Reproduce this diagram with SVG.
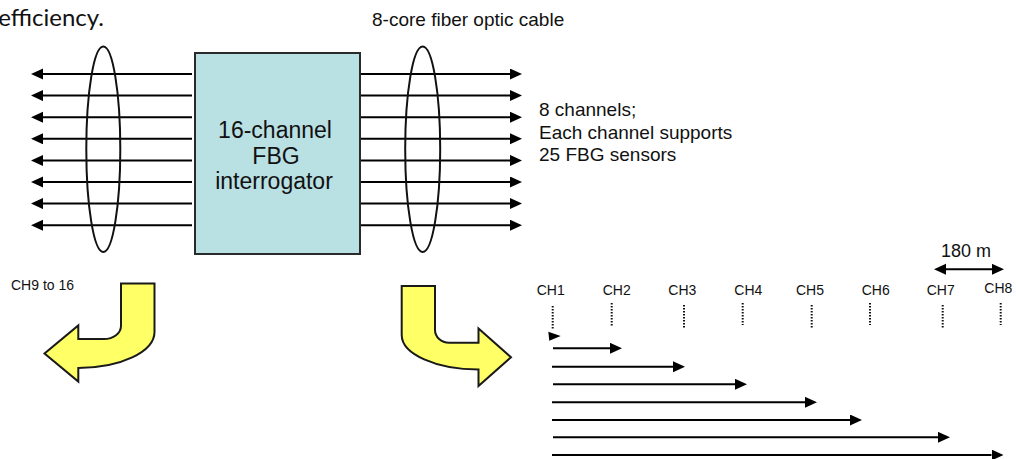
<svg xmlns="http://www.w3.org/2000/svg" width="1016" height="459" viewBox="0 0 1016 459">
<style>
  .t { font-family: "Liberation Sans", Arial, sans-serif; fill: #111; }
  .big { font-size: 19px; }
  .sm { font-size: 14px; }
  .box { font-size: 23px; }
  .ln { stroke: #000; stroke-width: 2; fill: none; }
  .ell { stroke: #111; stroke-width: 2; fill: none; }
  .dot { stroke: #111; stroke-width: 2; stroke-dasharray: 1.5 1.5; }
  .bend { fill: #FFFF66; stroke: #1a1a1a; stroke-width: 2; stroke-linejoin: miter; }
</style>
<defs>
  <marker id="ah" markerUnits="userSpaceOnUse" markerWidth="13" markerHeight="12" refX="0" refY="5.5" orient="auto-start-reverse">
    <path d="M0,0 L12,5.5 L0,11 z" fill="#000"/>
  </marker>
</defs>
<rect width="1016" height="459" fill="#fff"/>

<text x="104" y="26" text-anchor="end" style="font-family: Lato, 'Open Sans', sans-serif; font-size: 24px; fill: #111;">efficiency.</text>
<text id="cable-label" class="t big" x="372" y="26">8-core fiber optic cable</text>

<g id="connectors">
  <g id="left-fibers" marker-end="url(#ah)">
    <line class="ln" x1="192" y1="74" x2="43" y2="74"/>
    <line class="ln" x1="192" y1="95.6" x2="43" y2="95.6"/>
    <line class="ln" x1="192" y1="117.2" x2="43" y2="117.2"/>
    <line class="ln" x1="192" y1="138.8" x2="43" y2="138.8"/>
    <line class="ln" x1="192" y1="160.4" x2="43" y2="160.4"/>
    <line class="ln" x1="192" y1="182" x2="43" y2="182"/>
    <line class="ln" x1="192" y1="203.6" x2="43" y2="203.6"/>
    <line class="ln" x1="192" y1="225.2" x2="43" y2="225.2"/>
  </g>
  <g id="right-fibers" marker-end="url(#ah)">
    <line class="ln" x1="360" y1="74" x2="510" y2="74"/>
    <line class="ln" x1="360" y1="95.6" x2="510" y2="95.6"/>
    <line class="ln" x1="360" y1="117.2" x2="510" y2="117.2"/>
    <line class="ln" x1="360" y1="138.8" x2="510" y2="138.8"/>
    <line class="ln" x1="360" y1="160.4" x2="510" y2="160.4"/>
    <line class="ln" x1="360" y1="182" x2="510" y2="182"/>
    <line class="ln" x1="360" y1="203.6" x2="510" y2="203.6"/>
    <line class="ln" x1="360" y1="225.2" x2="510" y2="225.2"/>
  </g>
  <g id="channel-lengths" marker-end="url(#ah)">
    <line class="ln" x1="553" y1="348.3" x2="610" y2="348.3"/>
    <line class="ln" x1="552" y1="366.7" x2="673" y2="366.7"/>
    <line class="ln" x1="553" y1="384.3" x2="735" y2="384.3"/>
    <line class="ln" x1="552" y1="402.3" x2="805" y2="402.3"/>
    <line class="ln" x1="552" y1="420" x2="850" y2="420"/>
    <line class="ln" x1="553" y1="437.3" x2="938" y2="437.3"/>
    <line class="ln" x1="552" y1="455" x2="991.5" y2="455"/>
  </g>
  <polygon points="548.3,331.7 549.3,340.7 560.7,336" fill="#000"/>
  <line id="span-180" class="ln" x1="946" y1="269.3" x2="992" y2="269.3" marker-start="url(#ah)" marker-end="url(#ah)"/>
</g>

<g id="cable-left">
  <ellipse class="ell" cx="103.3" cy="149.3" rx="17" ry="102.7"/>
</g>
<g id="cable-right">
  <ellipse class="ell" cx="422.7" cy="149.3" rx="17.5" ry="102.7"/>
</g>

<g id="interrogator">
  <rect x="195" y="53" width="165" height="201" fill="#B9E0E3" stroke="#2a2a2a" stroke-width="2"/>
  <text class="t box" x="275" y="138" text-anchor="middle">16-channel</text>
  <text class="t box" x="276" y="163.5" text-anchor="middle">FBG</text>
  <text class="t box" x="274" y="189" text-anchor="middle">interrogator</text>
</g>

<g id="channels-note">
  <text class="t big" x="539" y="116">8 channels;</text>
  <text class="t big" x="539" y="138.5">Each channel supports</text>
  <text class="t big" x="539" y="161">25 FBG sensors</text>
</g>

<g id="ch9-16">
  <text class="t sm" x="11" y="290">CH9 to 16</text>
  <path class="bend" d="M121,283.4 H154.5 V332 A76.5 36 0 0 1 78.3,368 V381.5 L44.5,353.5 L78.3,325.5 V339 H104 A17 13 0 0 0 121,326 Z"/>
</g>

<g id="ch1-8-bend">
  <path class="bend" d="M401.7,286 H435 V330 A14 12.7 0 0 0 449,342.7 H478.5 V328.5 L511,357.3 L478.5,386 V369.5 A76.8 34.5 0 0 1 401.7,335 Z"/>
</g>

<g id="channel-labels">
  <text class="t sm" x="536.7" y="295">CH1</text>
  <text class="t sm" x="602.7" y="295">CH2</text>
  <text class="t sm" x="668.3" y="295">CH3</text>
  <text class="t sm" x="734.3" y="295">CH4</text>
  <text class="t sm" x="796" y="295">CH5</text>
  <text class="t sm" x="861.7" y="295">CH6</text>
  <text class="t sm" x="926.7" y="295">CH7</text>
  <text class="t sm" x="984.3" y="293">CH8</text>
  <text class="t" x="941" y="257" style="font-size:18px">180 m</text>
</g>

<g id="channel-marks">
  <line class="dot" x1="552.7" y1="306" x2="552.7" y2="330"/>
  <line class="dot" x1="611.7" y1="303" x2="611.7" y2="326"/>
  <line class="dot" x1="684" y1="305" x2="684" y2="328"/>
  <line class="dot" x1="742.7" y1="303" x2="742.7" y2="325"/>
  <line class="dot" x1="811.7" y1="305" x2="811.7" y2="328"/>
  <line class="dot" x1="870" y1="303" x2="870" y2="325"/>
  <line class="dot" x1="942.7" y1="305" x2="942.7" y2="328"/>
  <line class="dot" x1="1000.7" y1="303" x2="1000.7" y2="325"/>
</g>
</svg>
